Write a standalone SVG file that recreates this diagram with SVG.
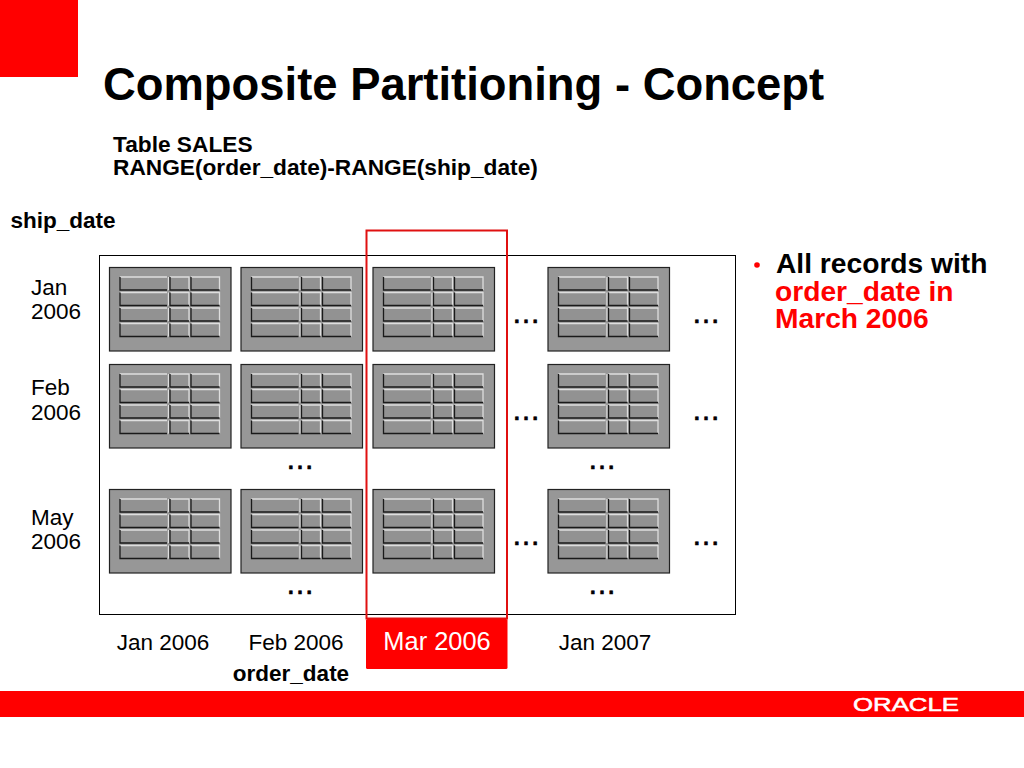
<svg xmlns="http://www.w3.org/2000/svg" width="1024" height="768" viewBox="0 0 1024 768">
<style>
text{font-family:"Liberation Sans",Arial,sans-serif;fill:#000}
.b{font-weight:bold}
.t{font-size:22.700px}
.l{font-size:22.500px}
.r{fill:#f00}
.d{font-size:29px;text-anchor:middle;stroke:#000;stroke-width:.7px}
.c{text-anchor:middle}
.tile{fill:#979797;stroke:#222;stroke-width:1.200}
.cell{fill:#929292;stroke:none}
.hi{fill:none;stroke:#dedede;stroke-width:1.300}
.lo{fill:none;stroke:#1a1a1a;stroke-width:1.300}
</style>
<defs>
<g id="cell1"><rect class="cell" width="47" height="13"/><path class="hi" d="M0 0H47M48.500 0V13"/><path class="lo" d="M0 0V13H47"/></g>
<g id="cell2"><rect class="cell" width="19" height="13"/><path class="hi" d="M0 0H19V13"/><path class="lo" d="M0 0V13H19"/></g>
<g id="cell3"><rect class="cell" width="28.500" height="13"/><path class="hi" d="M0 0H28.500V13"/><path class="lo" d="M0 0V13H28.500"/></g>
<g id="row"><use href="#cell1"/><use href="#cell2" x="50"/><use href="#cell3" x="71"/></g>
<g id="tile"><rect class="tile" x=".5" y=".5" width="121.500" height="83.500"/><use href="#row" x="11" y="10"/><use href="#row" x="11" y="25.500"/><use href="#row" x="11" y="41"/><use href="#row" x="11" y="56.500"/></g>
</defs>
<rect id="corner" x="0" y="0" width="78" height="77" fill="#f00"/>
<text x="103" y="100" class="b" font-size="45.400">Composite Partitioning - Concept</text>
<g id="heading"><text x="113" y="152" class="t b">Table SALES</text><text x="113" y="175" class="t b">RANGE(order_date)-RANGE(ship_date)</text></g>
<text x="10.500" y="228" class="l b">ship_date</text>
<rect id="frame" x="99.500" y="255.500" width="636" height="359" fill="#fff" stroke="#000" stroke-width="1"/>
<g id="row-labels">
<text class="l" x="31" y="295">Jan</text><text class="l" x="31" y="319">2006</text>
<text class="l" x="31" y="395">Feb</text><text class="l" x="31" y="420">2006</text>
<text class="l" x="31" y="525">May</text><text class="l" x="31" y="549">2006</text></g>
<g id="t11"><use href="#tile" x="109" y="267"/></g>
<g id="t12"><use href="#tile" x="240.500" y="267"/></g>
<g id="t13"><use href="#tile" x="372.500" y="267"/></g>
<g id="t14"><use href="#tile" x="547.500" y="267"/></g>
<g id="t21"><use href="#tile" x="109" y="364"/></g>
<g id="t22"><use href="#tile" x="240.500" y="364"/></g>
<g id="t23"><use href="#tile" x="372.500" y="364"/></g>
<g id="t24"><use href="#tile" x="547.500" y="364"/></g>
<g id="t31"><use href="#tile" x="109" y="489"/></g>
<g id="t32"><use href="#tile" x="240.500" y="489"/></g>
<g id="t33"><use href="#tile" x="372.500" y="489"/></g>
<g id="t34"><use href="#tile" x="547.500" y="489"/></g>
<g id="ellipses">
<text class="d" x="526" y="323">…</text><text class="d" x="706" y="323">…</text>
<text class="d" x="526" y="420">…</text><text class="d" x="706" y="420">…</text>
<text class="d" x="526" y="545">…</text><text class="d" x="706" y="545">…</text>
<text class="d" x="300" y="469">…</text><text class="d" x="602" y="469">…</text>
<text class="d" x="300" y="594">…</text><text class="d" x="602" y="594">…</text>
</g>
<g id="highlight">
<rect x="366" y="619" width="141.500" height="50" rx="1.500" fill="#f00"/>
<rect x="366.500" y="230.500" width="140.500" height="388" fill="none" stroke="#e01010" stroke-width="2"/>
<text x="437" y="650" class="c" font-size="25.400" style="fill:#fff">Mar 2006</text>
</g>
<g id="col-labels">
<text x="163" y="650" class="c l">Jan 2006</text>
<text x="296" y="650" class="c l">Feb 2006</text>
<text x="605" y="650" class="c l">Jan 2007</text>
<text x="291" y="681" class="c b l">order_date</text></g>
<g id="note">
<circle cx="757" cy="265" r="2.800" fill="#f00"/>
<text x="776" y="272.500" font-size="28.200" class="b">All records with</text>
<text x="775" y="300.500" font-size="28.200" class="b r">order_date in</text>
<text x="775" y="327.500" font-size="28.200" class="b r">March 2006</text>
</g>
<rect id="footer" x="0" y="691" width="1024" height="26" fill="#f00"/>
<text id="logo" x="853" y="711" font-size="19" textLength="106" lengthAdjust="spacingAndGlyphs" style="fill:#fff;stroke:#fff;stroke-width:.5">ORACLE</text>
</svg>
